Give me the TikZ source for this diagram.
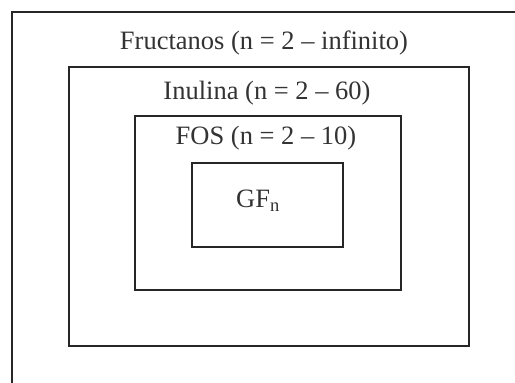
\documentclass[tikz,border=0pt]{standalone}
\usepackage{fontspec}
\setmainfont{Liberation Serif}
\usetikzlibrary{positioning}

\begin{document}
\begin{tikzpicture}[
  x=1pt,y=-1pt,
  box/.style={rectangle,draw=black!85,line width=2.8pt,inner sep=0pt},
  lbl/.style={font=\fontsize{26.5}{30}\selectfont,text=black!80,inner sep=0pt}
]
\useasboundingbox (0,0) rectangle (515,383);
\clip (0,0) rectangle (515,383);
\node[box,minimum width=518pt,minimum height=388pt] (fruct) at (271,206) {};
\node[box,minimum width=400pt,minimum height=279pt] (inul) at (269,206.5) {};
\node[box,minimum width=266pt,minimum height=174pt] (fos) at (268,203) {};
\node[box,minimum width=151pt,minimum height=84pt] (gf) at (267.5,205) {};
\node[lbl] (fructlbl) at (264,43) {Fructanos (n = 2 -- infinito)};
\node[lbl] (inullbl) at (267,93) {Inulina (n = 2 -- 60)};
\node[lbl] (foslbl) at (266,138) {FOS (n = 2 -- 10)};
\node[lbl] (gflbl) at (258,201) {GF\textsubscript{n}};
\end{tikzpicture}
\end{document}
